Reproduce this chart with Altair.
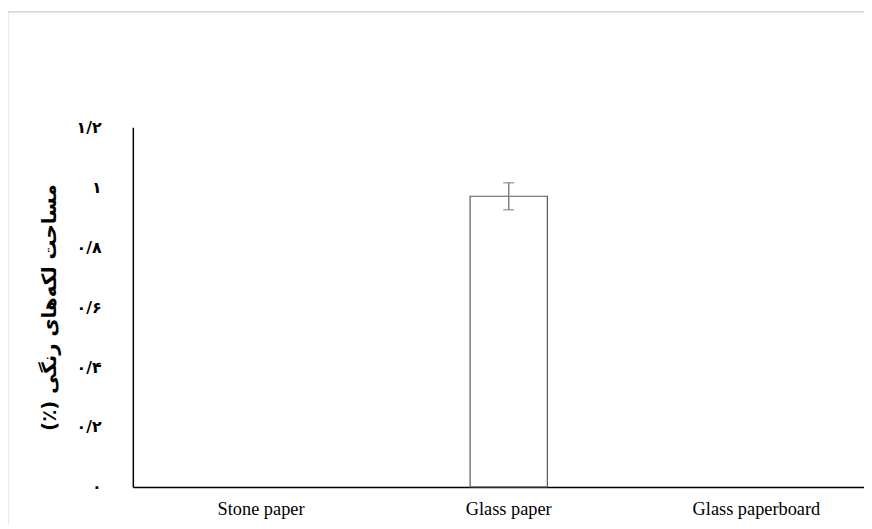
import altair as alt
import pandas as pd

categories = ["Stone paper", "Glass paper", "Glass paperboard"]
values = [0.0, 0.97, 0.0]
errors = [0.0, 0.045, 0.0]
y_ticks = [0, 0.2, 0.4, 0.6, 0.8, 1.0, 1.2]
y_tick_labels = ["۰", "۰/۲", "۰/۴", "۰/۶", "۰/۸", "۱", "۱/۲"]
y_title = "\u200fمساحت لکه‌های رنگی (٪)\u200f"

df = pd.DataFrame({"cat": categories, "val": values, "err": errors})
df["lo"] = df["val"] - df["err"]
df["hi"] = df["val"] + df["err"]

label_expr = "[" + ",".join(f"'{s}'" for s in y_tick_labels) + "][round(datum.value*5)]"

x_scale = alt.Scale(domain=categories, paddingInner=0.688, paddingOuter=0.32, align=0.565)
x_enc = alt.X(
    "cat:N", sort=categories, title=None, scale=x_scale,
    axis=alt.Axis(labelAngle=0, labelFont="Liberation Serif", labelFontSize=18.5,
                  labelColor="black", ticks=False, labelPadding=13,
                  domainColor="black", domainWidth=1.5),
)
y_scale = alt.Scale(domain=[0, 1.2], nice=False)
y_enc = alt.Y(
    "val:Q", scale=y_scale,
    axis=alt.Axis(values=y_ticks, labelExpr=label_expr, grid=False, ticks=False,
                  labelPadding=32, labelFontSize=16, labelFontWeight="bold",
                  labelColor="black", labelFont="DejaVu Sans",
                  title=y_title, titleFont="DejaVu Sans", titleFontSize=20,
                  titleFontWeight="bold", titlePadding=17, titleColor="black",
                  domainColor="black", domainWidth=1.5),
)

base = alt.Chart(df)
x_plain = alt.X("cat:N", sort=categories, scale=x_scale)

bars = base.transform_filter("datum.val > 0").mark_bar(
    fill="white", stroke="#595959", strokeWidth=1.2
).encode(x=x_enc, y=y_enc)

err_rule = base.transform_filter("datum.err > 0").mark_rule(
    color="#7f7f7f", strokeWidth=1.5
).encode(x=x_plain, y=alt.Y("lo:Q", scale=y_scale), y2="hi:Q")

cap_lo = base.transform_filter("datum.err > 0").mark_tick(
    color="#7f7f7f", size=11, thickness=1.5, orient="horizontal"
).encode(x=x_plain, y=alt.Y("lo:Q", scale=y_scale))

cap_hi = base.transform_filter("datum.err > 0").mark_tick(
    color="#7f7f7f", size=11, thickness=1.5, orient="horizontal"
).encode(x=x_plain, y=alt.Y("hi:Q", scale=y_scale))

frame = alt.Chart(pd.DataFrame({"a": [0]})).mark_rect(
    fill=None, stroke="#d9d9d9", strokeWidth=2
).encode(x=alt.value(-126.5), y=alt.value(-116.5), x2=alt.value(900), y2=alt.value(500))

chart = alt.layer(frame, bars, err_rule, cap_lo, cap_hi).properties(
    width=738, height=363, autosize="none",
    padding={"left": 126, "top": 118, "right": 0, "bottom": 36},
).configure_view(stroke=None)

chart.save("out.html", embed_options={"renderer": "svg", "actions": False})
